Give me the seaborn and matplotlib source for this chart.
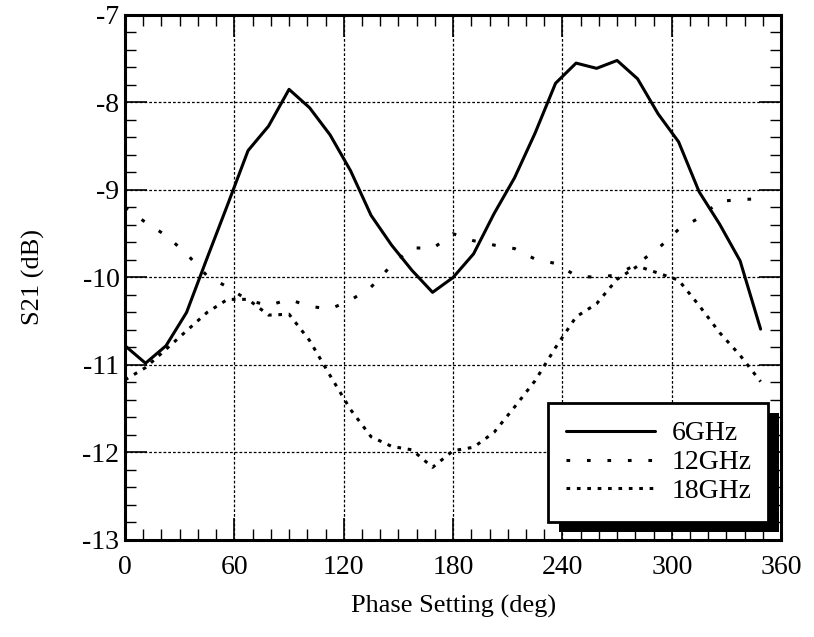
import matplotlib
matplotlib.use("Agg")
import matplotlib.pyplot as plt
import seaborn as sns
import pandas as pd
from matplotlib.patches import Rectangle
from matplotlib.transforms import IdentityTransform
from matplotlib.ticker import MultipleLocator

# ---- Data --------------------------------------------------------------------####

phase_deg = [0, 11.25, 22.5, 33.75, 45, 56.25, 67.5, 78.75, 90, 101.25, 112.5, 123.75,
             135, 146.25, 157.5, 168.75, 180, 191.25, 202.5, 213.75, 225, 236.25, 247.5, 258.75,
             270, 281.25, 292.5, 303.75, 315, 326.25, 337.5, 348.75]

s21_6ghz = [-10.78, -10.98, -10.78, -10.40, -9.78, -9.17, -8.55, -8.27, -7.85, -8.06, -8.37, -8.78,
            -9.29, -9.63, -9.92, -10.17, -10.00, -9.73, -9.27, -8.86, -8.35, -7.78, -7.55, -7.61,
            -7.52, -7.73, -8.13, -8.45, -9.02, -9.39, -9.81, -10.59]

s21_12ghz = [-9.20, -9.37, -9.52, -9.73, -9.98, -10.11, -10.26, -10.32, -10.25, -10.33, -10.36, -10.26,
             -10.11, -9.86, -9.66, -9.67, -9.50, -9.58, -9.63, -9.67, -9.79, -9.84, -9.98, -10.00,
             -9.97, -9.84, -9.67, -9.45, -9.32, -9.13, -9.11, -9.10]

s21_18ghz = [-11.17, -11.03, -10.82, -10.61, -10.40, -10.25, -10.25, -10.43, -10.42, -10.72, -11.12, -11.51,
             -11.82, -11.93, -11.97, -12.17, -11.98, -11.94, -11.77, -11.48, -11.18, -10.80, -10.45, -10.30,
             -10.02, -9.87, -9.95, -10.03, -10.32, -10.63, -10.89, -11.19]

freq_labels = ['6GHz', '12GHz', '18GHz']

# long-form frame for seaborn
df = pd.concat([pd.DataFrame({'phase': phase_deg, 's21': vals, 'freq': f})
                for f, vals in zip(freq_labels, [s21_6ghz, s21_12ghz, s21_18ghz])])

# ---- Plot -------------------------------------------####

sns.set_style('ticks', rc={'axes.edgecolor': 'k', 'text.color': 'k', 'axes.labelcolor': 'k',
                           'xtick.color': 'k', 'ytick.color': 'k'})
plt.rcParams['font.family'] = ['Liberation Serif', 'DejaVu Serif']
plt.rcParams['axes.unicode_minus'] = False

fig = plt.figure(figsize=(8.14, 6.37), dpi=100)
ax = fig.add_axes([0.1536, 0.1523, 0.806, 0.8242])

sns.lineplot(data=df, x='phase', y='s21', style='freq', style_order=freq_labels,
             dashes={'6GHz': '', '12GHz': (1.2, 5.5), '18GHz': (1.2, 2.2)},
             color='k', linewidth=2.2, legend=False, ax=ax)

ax.set_xlim(0, 360)
ax.set_ylim(-13, -7)
ax.xaxis.set_major_locator(MultipleLocator(60))
ax.xaxis.set_minor_locator(MultipleLocator(10))
ax.yaxis.set_major_locator(MultipleLocator(1))
ax.yaxis.set_minor_locator(MultipleLocator(0.2))

ax.set_axisbelow(True)
ax.grid(True, which='major', color='k', linestyle=(0, (2.2, 1.6)), linewidth=0.9)

ax.tick_params(which='both', direction='in', top=True, right=True, labelsize=20)
ax.tick_params(which='major', length=16, width=1.2)
ax.tick_params(which='minor', length=8, width=1.0)
ax.tick_params(axis='x', which='major', pad=11)
ax.tick_params(axis='y', which='major', pad=4)
for s in ax.spines.values():
    s.set_linewidth(2.2)
    s.set_color('k')

ax.set_xlabel('Phase Setting (deg)', fontsize=19)
ax.set_ylabel('S21 (dB)', fontsize=19)
ax.xaxis.set_label_coords(0.5, -0.105)
ax.yaxis.set_label_coords(-0.122, 0.5)

leg = ax.legend(ax.lines[:3], freq_labels, loc='upper left', mode='expand',
                bbox_to_anchor=(0.645, 0.261, 0.335, 0.0), fontsize=20,
                fancybox=False, framealpha=1, edgecolor='k',
                borderpad=0.65, labelspacing=0.12,
                handlelength=3.2, handletextpad=0.6, borderaxespad=0)
leg.get_frame().set_linewidth(2.0)
leg.set_zorder(6)

# drop shadow under the legend box
fig.canvas.draw()
bb = leg.get_window_extent()
shadow = Rectangle((bb.x0 + 11, bb.y0 - 10), bb.width, bb.height, transform=IdentityTransform(),
                   facecolor='k', edgecolor='none', zorder=5.5, clip_on=False)
ax.add_artist(shadow)

plt.savefig('out.png', dpi=100)
